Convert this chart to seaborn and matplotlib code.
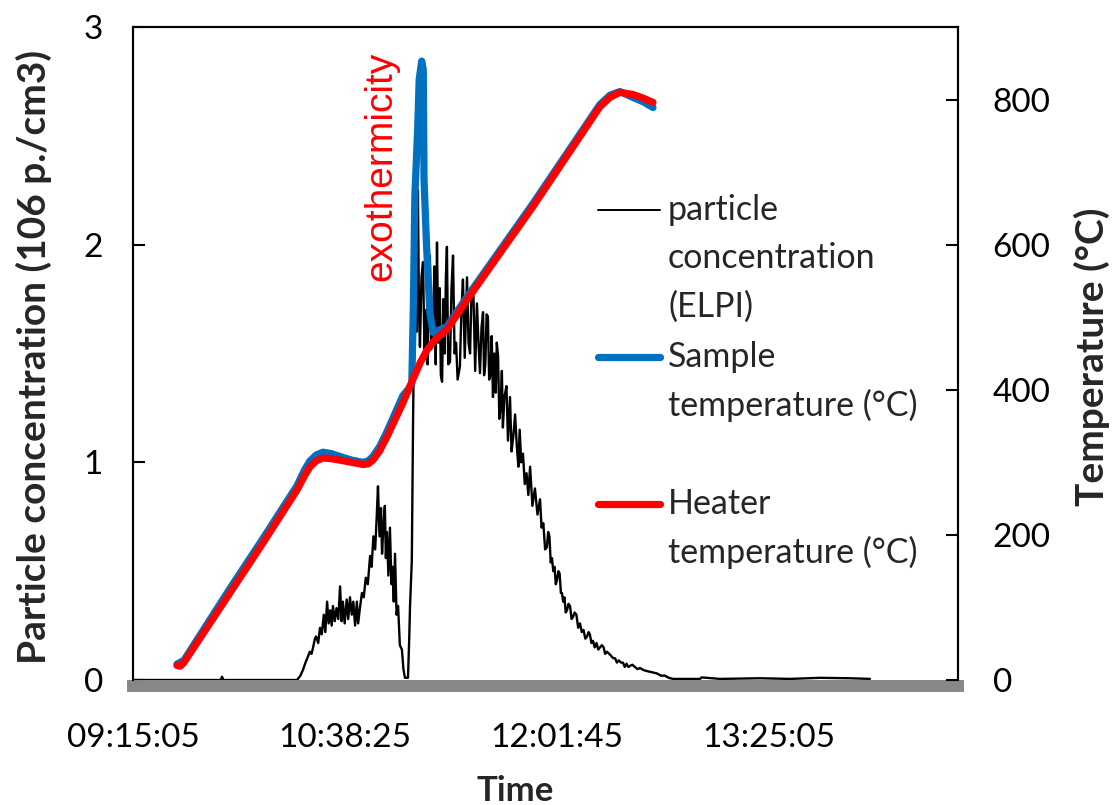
import matplotlib
matplotlib.use("Agg")
import pandas as pd
import matplotlib.pyplot as plt
import seaborn as sns
from matplotlib.lines import Line2D
from matplotlib.ticker import FuncFormatter

# ---- data (time in minutes after 09:15:05) ----
# ELPI particle concentration (10^6 p./cm3), (minutes, value) readings
particle_readings = [
    (0, 0), (34.5, 0), (35.0, 0.015), (35.5, 0), (64.5, 0), (65.8, 0.02),
    (66.8, 0.046), (67.8, 0.08), (68.5, 0.10), (69.5, 0.13), (70.2, 0.12),
    (70.8, 0.15), (71.5, 0.19), (72.0, 0.20), (72.8, 0.17), (73.5, 0.24),
    (74.2, 0.21), (75.0, 0.30), (75.6, 0.22), (76.3, 0.36), (76.9, 0.26),
    (77.5, 0.32), (78.1, 0.25), (78.6, 0.34), (79.3, 0.27), (80.0, 0.33),
    (80.7, 0.28), (81.4, 0.43), (82.0, 0.27), (82.5, 0.36), (83.2, 0.26),
    (84.0, 0.37), (84.6, 0.28), (85.3, 0.38), (86.0, 0.30), (86.6, 0.36),
    (87.3, 0.25), (88.0, 0.36), (88.5, 0.26), (89.2, 0.33), (90.0, 0.40),
    (90.7, 0.38), (91.5, 0.47), (92.3, 0.44), (93.2, 0.57), (93.8, 0.52),
    (94.5, 0.66), (95.2, 0.60), (95.8, 0.75), (96.3, 0.89), (96.9, 0.66),
    (97.5, 0.79), (97.9, 0.58), (98.5, 0.72), (99.0, 0.80), (99.4, 0.56),
    (99.8, 0.68), (100.4, 0.48), (101.0, 0.70), (101.6, 0.44), (102.0, 0.52),
    (102.5, 0.36), (103.0, 0.58), (103.6, 0.30), (104.2, 0.34), (104.9, 0.16),
    (105.7, 0.14), (106.3, 0.05), (106.9, 0.01), (108.1, 0.01), (108.6, 0.20),
    (108.9, 0.34), (109.6, 0.55), (110.1, 1.20), (110.6, 1.70), (111.0, 1.90),
    (111.5, 1.60), (112.0, 2.25), (112.4, 1.70), (112.8, 1.53), (113.4, 1.85),
    (114.0, 1.92), (114.6, 1.50), (115.2, 1.70), (115.8, 1.45), (116.2, 1.88),
    (116.7, 1.95), (117.2, 1.52), (117.9, 1.61), (118.5, 1.90), (119.0, 1.45),
    (119.5, 2.01), (120.0, 1.55), (120.6, 1.80), (121.0, 1.40), (121.5, 1.37),
    (122.0, 1.75), (122.5, 1.50), (123.0, 1.85), (123.4, 1.99), (123.9, 1.45),
    (124.6, 1.46), (125.2, 1.80), (125.8, 1.95), (126.4, 1.50), (127.0, 1.55),
    (127.6, 1.38), (128.5, 1.44), (129.1, 1.70), (129.7, 1.84), (130.4, 1.48),
    (131.3, 1.85), (131.9, 1.55), (132.5, 1.50), (133.1, 1.80), (133.8, 1.78),
    (134.5, 1.42), (135.2, 1.73), (135.8, 1.55), (136.4, 1.41), (137.0, 1.62),
    (137.6, 1.69), (138.0, 1.40), (138.5, 1.45), (139.0, 1.68), (139.5, 1.67),
    (140.0, 1.38), (140.5, 1.40), (141.0, 1.58), (141.5, 1.30), (142.0, 1.50),
    (142.6, 1.32), (143.0, 1.55), (143.5, 1.49), (144.0, 1.20), (144.5, 1.25),
    (145.0, 1.42), (145.4, 1.16), (146.0, 1.30), (146.8, 1.35), (147.4, 1.10),
    (148.2, 1.30), (148.8, 1.05), (149.5, 1.12), (150.2, 1.22), (150.9, 1.07),
    (151.5, 0.98), (152.0, 1.15), (152.6, 1.00), (153.3, 1.04), (154.0, 0.90),
    (154.7, 0.95), (155.4, 0.85), (156.1, 0.98), (157.0, 0.80), (158.0, 0.88),
    (159.0, 0.76), (160.0, 0.83), (160.6, 0.70), (161.3, 0.72), (162.0, 0.60),
    (162.7, 0.61), (163.2, 0.68), (163.7, 0.66), (164.2, 0.54), (164.7, 0.56),
    (165.2, 0.50), (165.7, 0.52), (166.2, 0.44), (166.7, 0.46), (167.2, 0.50),
    (167.7, 0.49), (168.2, 0.40), (168.6, 0.40), (169.1, 0.36), (169.6, 0.38),
    (170.1, 0.31), (170.6, 0.32), (171.2, 0.35), (171.8, 0.34), (172.4, 0.28),
    (173.0, 0.29), (173.6, 0.31), (174.3, 0.30), (175.0, 0.24), (175.7, 0.26),
    (176.4, 0.22), (177.1, 0.23), (177.8, 0.19), (178.5, 0.20), (179.1, 0.22),
    (179.6, 0.21), (180.2, 0.17), (180.8, 0.18), (181.5, 0.15), (182.2, 0.17),
    (182.9, 0.14), (183.6, 0.15), (184.3, 0.16), (185.0, 0.15), (185.6, 0.12),
    (186.3, 0.13), (187.2, 0.12), (188.0, 0.11), (188.8, 0.10), (189.5, 0.10),
    (190.2, 0.08), (191.0, 0.09), (191.8, 0.08), (192.6, 0.08), (193.3, 0.06),
    (194.0, 0.075), (194.7, 0.06), (195.4, 0.065), (196.3, 0.07), (197.3, 0.06),
    (198.3, 0.05), (199.3, 0.055), (200.8, 0.045), (202.4, 0.04), (204.2, 0.035),
    (206.0, 0.03), (207.5, 0.02), (209.1, 0.02), (210.6, 0.01), (212.3, 0.005),
    (222.9, 0.005), (223.5, 0.012), (230.7, 0.005), (246.5, 0.008),
    (258.3, 0.005), (270.0, 0.01), (281.8, 0.008), (289.7, 0.005),
]

sample_min = [
    17.3, 20.0, 38.1, 51.1, 64.5, 67.5, 69.6, 72.0, 74.7, 78.0,
    81.4, 86.0, 90.4, 92.5, 94.3, 97.0, 99.8, 106.1, 108.5, 109.6,
    110.2, 110.8, 111.9, 112.5, 113.5, 114.1, 114.4, 115.4, 116.7, 118.0,
    123.4, 131.3, 157.1, 183.5, 187.5, 191.4, 196.5, 200.5, 204.4,
]
sample_temp = [
    22, 27, 126, 195, 268, 290, 302, 310, 314, 312,
    308, 303, 300, 302, 308, 322, 342, 392, 402, 409,
    515, 667, 759, 828, 853, 841, 690, 598, 506, 479,
    487, 528, 656, 793, 806, 811, 803, 797, 789,
]

heater_min = [
    17.3, 18.5, 20.0, 38.1, 51.1, 64.5, 67.5, 69.6, 72.0, 74.7,
    78.0, 81.4, 86.0, 90.4, 92.5, 94.3, 97.0, 99.8, 106.1, 110.1,
    113.0, 115.6, 119.0, 123.4, 131.3, 157.1, 183.5, 187.5, 191.4, 196.5,
    200.5, 204.4,
]
heater_temp = [
    20, 19, 24, 120, 189, 262, 282, 294, 302, 306,
    305, 303, 300, 297, 298, 303, 316, 335, 382, 415,
    438, 455, 470, 483, 524, 652, 790, 803, 810, 807,
    802, 796,
]

time_ticks = [0, 83.333, 166.667, 250]
conc_ticks = [0, 1, 2, 3]
temp_ticks = [0, 200, 400, 600, 800]

legend_labels = [
    ["particle", "concentration", "(ELPI)"],
    ["Sample", "temperature (°C)"],
    ["Heater", "temperature (°C)"],
]

START_S = 9 * 3600 + 15 * 60 + 5


def clock(m, pos=None):
    s = int(round(START_S + m * 60))
    return f"{s // 3600:02d}:{s % 3600 // 60:02d}:{s % 60:02d}"


particle_df = pd.DataFrame(particle_readings, columns=["minutes", "conc"])
sample_df = pd.DataFrame({"minutes": sample_min, "temp": sample_temp})
heater_df = pd.DataFrame({"minutes": heater_min, "temp": heater_temp})

sns.set_style("white")
plt.rcParams['font.family'] = ['Lato', 'DejaVu Sans']

BLUE = '#0070C0'
RED = '#FF0000'
GRAY = '#878787'
FS = 24

fig = plt.figure(figsize=(11.15, 8.05), dpi=100)
ax = fig.add_axes([133 / 1115, 125 / 805, 825 / 1115, 653 / 805])
ax2 = ax.twinx()

sns.lineplot(data=particle_df, x="minutes", y="conc", ax=ax, color='black',
             lw=1.7, estimator=None, legend=False)
sns.lineplot(data=sample_df, x="minutes", y="temp", ax=ax2, color=BLUE,
             lw=5.2, estimator=None, legend=False, solid_capstyle='round')
sns.lineplot(data=heater_df, x="minutes", y="temp", ax=ax2, color=RED,
             lw=5.2, estimator=None, legend=False, solid_capstyle='round')

ax.set_xlim(0, 324.3)
ax.set_ylim(0, 3)
ax2.set_ylim(0, 900)
ax.set_xticks(time_ticks)
ax.xaxis.set_major_formatter(FuncFormatter(clock))
ax.set_yticks(conc_ticks)
ax2.set_yticks(temp_ticks)

ax.tick_params(axis='y', direction='in', length=8.5, width=1.5, pad=21.5,
               labelsize=FS, colors='black')
ax.tick_params(axis='x', length=0, pad=27, labelsize=FS, colors='black')
ax2.tick_params(axis='y', direction='in', length=8.5, width=1.5, pad=25,
                labelsize=FS, colors='black')

for a in (ax, ax2):
    for side in ('left', 'top', 'right'):
        a.spines[side].set_visible(True)
        a.spines[side].set_color('black')
        a.spines[side].set_linewidth(1.5)
ax2.spines['bottom'].set_visible(False)
ax.spines['bottom'].set_color(GRAY)
ax.spines['bottom'].set_linewidth(8.6)
ax.spines['bottom'].set_position(('outward', 4.3))

ax.set_xlabel('Time', fontsize=25, fontweight='bold')
ax.xaxis.set_label_coords(0.463, -0.145)
ax.set_ylabel('Particle concentration (106 p./cm3)', fontsize=28, fontweight='bold')
ax.yaxis.set_label_coords(-0.098, 0.495)
ax2.set_ylabel('Temperature (°C)', fontsize=28, fontweight='bold')
ax2.yaxis.set_label_coords(1.14, 0.495)

ax.text(97.5, 2.36, 'exothermicity', rotation=90, ha='center', va='center',
        color=RED, fontsize=28, family=['Liberation Sans', 'DejaVu Sans'])

# hand-built legend (handle sits on the first text line, like Excel)
handle_y = [0.720, 0.495, 0.270]
handle_style = [('black', 1.4), (BLUE, 5.2), (RED, 5.2)]
line_step = 48.5 / 653
for lines, y0, (col, lw) in zip(legend_labels, handle_y, handle_style):
    ax2.add_line(Line2D([0.5636, 0.6388], [y0, y0], transform=ax2.transAxes,
                        color=col, lw=lw, solid_capstyle='round'))
    for i, txt in enumerate(lines):
        ax2.text(0.6485, y0 - i * line_step, txt, transform=ax2.transAxes,
                 ha='left', va='center', fontsize=24.5)

fig.savefig('out.png', dpi=100)
